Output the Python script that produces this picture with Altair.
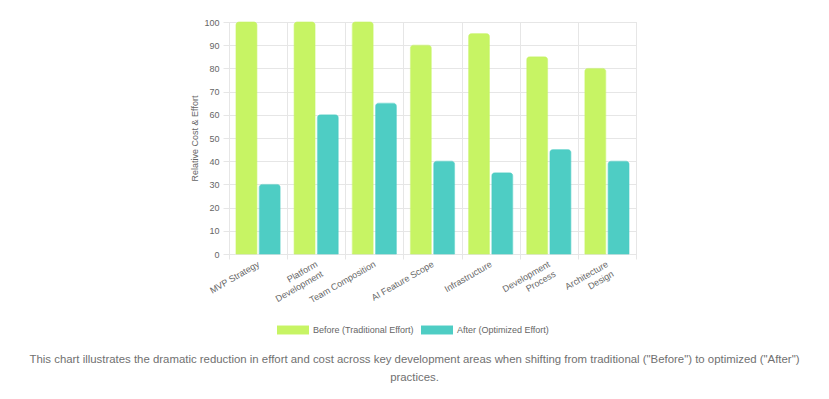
import altair as alt
import pandas as pd

categories = ["MVP Strategy", "Platform|Development", "Team Composition", "AI Feature Scope",
              "Infrastructure", "Development|Process", "Architecture|Design"]
before = [100, 100, 100, 90, 95, 85, 80]
after = [30, 60, 65, 40, 35, 45, 40]
series = ["Before (Traditional Effort)", "After (Optimized Effort)"]
colors = ["#c7f464", "#4ecdc4"]
y_ticks = list(range(0, 101, 10))
caption = ["This chart illustrates the dramatic reduction in effort and cost across key development areas when shifting from traditional (\"Before\") to optimized (\"After\")",
           "practices."]

rows = []
for c, b, a in zip(categories, before, after):
    rows.append({"cat": c, "series": series[0], "value": b})
    rows.append({"cat": c, "series": series[1], "value": a})
df = pd.DataFrame(rows)

FONT = "Liberation Sans"
GRID = "#e6e6e6"
TXT = "#666666"

sym = "M-1,-0.28L1,-0.28L1,0.28L-1,0.28Z"

chart = alt.Chart(df).mark_bar(
    cornerRadiusTopLeft=3, cornerRadiusTopRight=3, strokeWidth=1, strokeOpacity=0.6
).encode(
    x=alt.X("cat:N", sort=categories,
            scale=alt.Scale(paddingInner=0, paddingOuter=0),
            axis=alt.Axis(title=None, labelAngle=-30, labelAlign="right", labelBaseline="middle",
                          labelExpr="split(datum.label, '|')", grid=True, bandPosition=0,
                          tickBand="extent", gridColor=GRID, tickColor=GRID, domainColor=GRID,
                          tickSize=5, labelPadding=4, labelColor=TXT, labelFont=FONT,
                          labelFontSize=9, labelLineHeight=11)),
    xOffset=alt.XOffset("series:N", sort=series,
                        scale=alt.Scale(paddingInner=0.1, paddingOuter=0.3)),
    y=alt.Y("value:Q", scale=alt.Scale(domain=[0, 100], nice=False),
            axis=alt.Axis(title="Relative Cost & Effort", values=y_ticks, grid=True,
                          gridColor=GRID, tickColor=GRID, domainColor=GRID, tickSize=6,
                          labelPadding=4, labelColor=TXT, labelFont=FONT, labelFontSize=9,
                          titleColor=TXT, titleFont=FONT, titleFontSize=9,
                          titleFontWeight="normal", titlePadding=4)),
    color=alt.Color("series:N", sort=series,
                    scale=alt.Scale(domain=series, range=colors),
                    legend=alt.Legend(title=None, orient="none", legendX=48, legendY=292,
                                      direction="horizontal", symbolType=sym, symbolSize=1024,
                                      symbolStrokeWidth=0, symbolOpacity=1,
                                      labelFont=FONT, labelFontSize=9, labelColor=TXT,
                                      labelOffset=4, columnPadding=7, labelLimit=0, padding=0)),
    stroke=alt.Stroke("series:N", sort=series,
                      scale=alt.Scale(domain=series, range=colors), legend=None),
).properties(
    width=407, height=232,
    autosize=alt.AutoSizeParams(type="none"),
    padding={"left": 221, "top": 14, "right": 170, "bottom": 140},
    title=alt.TitleParams(text=caption, orient="bottom", anchor="middle", frame="group",
                          dx=-18, offset=19, font=FONT, fontSize=11.4, fontWeight="normal",
                          color="#707070", lineHeight=18, baseline="top"),
).configure_view(stroke=None).configure(background="white")

chart.save("out.html", embed_options={"renderer": "svg", "actions": False})
